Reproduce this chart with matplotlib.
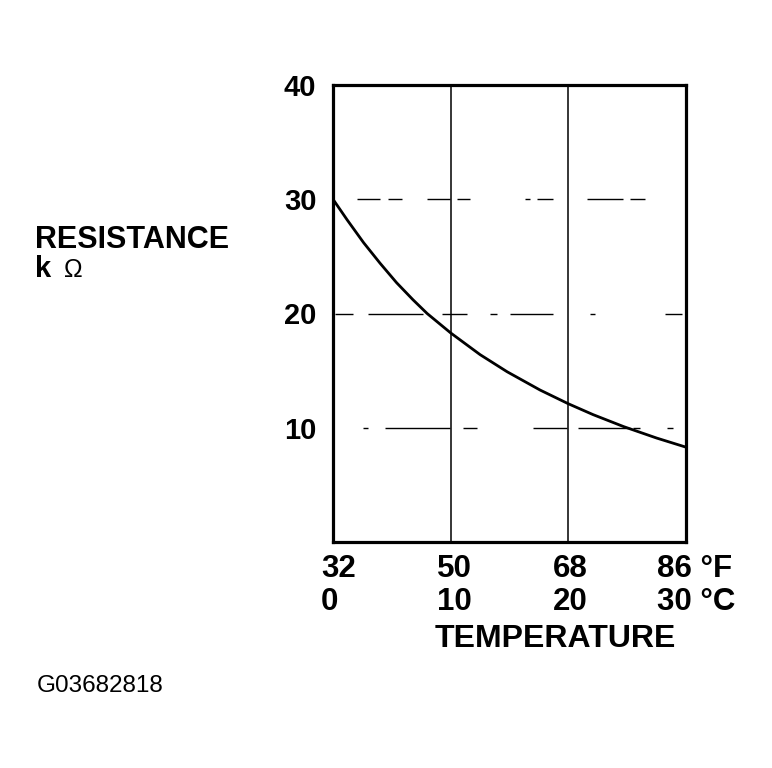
import matplotlib
matplotlib.use("Agg")
import matplotlib.pyplot as plt

plt.rcParams["font.family"] = ["Liberation Sans", "DejaVu Sans"]
plt.rcParams["lines.scale_dashes"] = False

# readings: temperature (deg C) vs resistance (kOhm)
temp_c = [0, 1.2, 2.6, 4.0, 5.4, 6.8, 8.0, 10, 12.5, 14.8, 17.6, 20, 22.1, 24.7, 27.5, 30]
resistance = [30, 28.2, 26.2, 24.4, 22.7, 21.2, 20.0, 18.3, 16.4, 14.9, 13.3, 12.1, 11.15, 10.1, 9.1, 8.3]

x_ticks = [0, 10, 20, 30]
x_labels_f = ["32", "50", "68", "86 °F"]
x_labels_c = ["0", "10", "20", "30 °C"]
y_ticks = [10, 20, 30, 40]
y_labels = ["10", "20", "30", "40"]

PX = 0.72  # pixels -> points at dpi 100

# hand-drawn looking dash patterns (pixels) for the horizontal grid lines
grid_dashes = {
    30: [0, 24, 23, 8, 14, 25, 23, 7, 13, 55, 5, 7, 16, 34, 36, 7, 15, 200],
    20: [0, 2, 18, 15, 55, 19, 25, 23, 7, 13, 43, 37, 5, 70, 17, 200],
    10: [0, 30, 5, 17, 65, 13, 14, 56, 34, 11, 52, 3, 7, 27, 6, 200],
}

fig = plt.figure(figsize=(7.72, 7.68), dpi=100)
ax = fig.add_axes([333 / 772, 1 - 542 / 768, 353 / 772, 457 / 768])

ax.set_xlim(0, 30)
ax.set_ylim(0, 40)

for x in x_ticks[1:-1]:
    ax.axvline(x, color="black", lw=1.1, zorder=1)
for y, d in grid_dashes.items():
    ax.axhline(y, color="black", lw=1.0, linestyle=(0, [v * PX for v in d]),
               dash_capstyle="butt", zorder=1)

ax.plot(temp_c, resistance, color="black", lw=2.0, solid_joinstyle="round", zorder=2)

for s in ax.spines.values():
    s.set_linewidth(2.3)

ax.set_xticks([])
ax.set_yticks(y_ticks)
ax.set_yticklabels(y_labels, fontsize=21, fontweight="bold")
ax.tick_params(axis="y", length=0, pad=12)

shifts = [-12, -14, -15, -29]
for x, lf, lc, sh in zip(x_ticks, x_labels_f, x_labels_c, shifts):
    ax.annotate(lf, xy=(x, 0), xycoords=("data", "axes fraction"),
                xytext=(sh * PX, -35 * PX), textcoords="offset points",
                ha="left", va="baseline", fontsize=22.5, fontweight="bold")
    ax.annotate(lc, xy=(x, 0), xycoords=("data", "axes fraction"),
                xytext=(sh * PX, -68 * PX), textcoords="offset points",
                ha="left", va="baseline", fontsize=22.5, fontweight="bold")

fig.text(435 / 772, 1 - 647 / 768, "TEMPERATURE", fontsize=23, fontweight="bold",
         ha="left", va="baseline")
fig.text(35 / 772, 1 - 248 / 768, "RESISTANCE", fontsize=22, fontweight="bold",
         ha="left", va="baseline")
fig.text(35 / 772, 1 - 277 / 768, "k", fontsize=21, fontweight="bold",
         ha="left", va="baseline")
fig.text(64 / 772, 1 - 277 / 768, "Ω", fontsize=18, ha="left", va="baseline")
fig.text(37 / 772, 1 - 692 / 768, "G03682818", fontsize=17.5, ha="left", va="baseline")

fig.savefig("out.png", dpi=100, facecolor="white")
